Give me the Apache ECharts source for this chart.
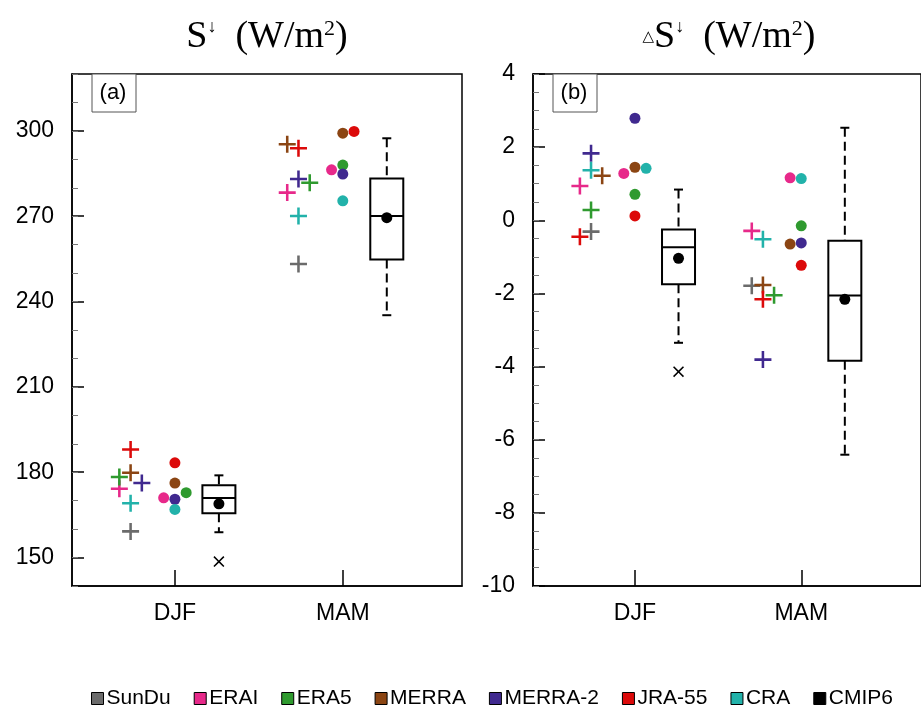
<!DOCTYPE html>
<html>
<head>
<meta charset="utf-8">
<script src="https://cdn.jsdelivr.net/npm/echarts@6/dist/echarts.min.js"></script>
<style>html,body{margin:0;padding:0;background:#fff}#chart{width:921px;height:708px}</style>
</head>
<body>
<div id="chart"></div>
<script>
// ---------------- DATA ----------------
const seasons = ['DJF', 'MAM'];
const obsNames = ['SunDu', 'ERAI', 'ERA5', 'MERRA', 'MERRA-2', 'JRA-55', 'CRA'];   // crosses
const reaNames = ['ERAI', 'ERA5', 'MERRA', 'MERRA-2', 'JRA-55', 'CRA'];            // dots

// Panel (a): S (W/m2)
const aCrossDJF = [159.2, 174.2, 178.3, 179.8, 176.2, 188.0, 169.1];
const aCrossMAM = [253.2, 278.3, 281.8, 295.3, 283.1, 293.9, 270.1];
const aDotDJF = [171.0, 172.8, 176.2, 170.5, 183.3, 166.9];
const aDotMAM = [286.3, 288.0, 299.2, 284.8, 299.8, 275.4];
const aBoxDJF = [158.9, 165.6, 170.9, 175.4, 178.9];   // low, q1, median, q3, high
const aBoxMAM = [235.2, 254.8, 270.1, 283.3, 297.4];
const aMean = [168.9, 269.5];
const aOutDJF = [148.6];
const aOutMAM = [];
const aTicks = [150, 180, 210, 240, 270, 300];

// Panel (b): delta S (W/m2)
const bCrossDJF = [-0.31, 0.94, 0.28, 1.22, 1.83, -0.45, 1.37];
const bCrossMAM = [-1.79, -0.29, -2.05, -1.77, -3.81, -2.16, -0.52];
const bDotDJF = [1.28, 0.71, 1.45, 2.79, 0.12, 1.42];
const bDotMAM = [1.16, -0.15, -0.65, -0.62, -1.23, 1.14];
const bBoxDJF = [-3.35, -1.75, -0.74, -0.25, 0.84];
const bBoxMAM = [-6.41, -3.84, -2.06, -0.56, 2.53];
const bMean = [-1.04, -2.16];
const bOutDJF = [-4.14];
const bOutMAM = [];
const bTicks = [-10, -8, -6, -4, -2, 0, 2, 4];

// ---------------- LAYOUT / STYLE ----------------
const colors = {
  'SunDu': '#6b6b6b', 'ERAI': '#e7298a', 'ERA5': '#2f9a2f', 'MERRA': '#8b4513',
  'MERRA-2': '#40298f', 'JRA-55': '#dc0a0a', 'CRA': '#22b2aa', 'CMIP6': '#000000'
};
// horizontal de-overlap steps (layout only)
const crossJit = {
  a: [[0, -1, -1, 0, 1, 0, 0], [0, -1, 1, -1, 0, 0, 0]],
  b: [[0, -1, 0, 1, 0, -1, 0], [-0.5, -0.5, 1.5, 0.5, 0.5, 0.5, 0.5]]
};
const dotJit = {
  a: [[-1, 1, 0, 0, 0, 0], [-1, 0, 0, 0, 1, 0]],
  b: [[-1, 0, 0, 0, 0, 1], [-1, 0, -1, 0, 0, 0]]
};
const CROSS_OFF = -0.264, BOX_OFF = 0.262, STEP = 0.067;
const PLUS = 'path://M8.5,0H11.5V8.5H20V11.5H11.5V20H8.5V11.5H0V8.5H8.5Z';
const XMARK = 'path://M0,1L1,0L5,4L9,0L10,1L6,5L10,9L9,10L5,6L1,10L0,9L4,5Z';
const SANS = '"Liberation Sans", Arial, Helvetica, sans-serif';
const SERIF = '"Liberation Serif", "Times New Roman", serif';

const panels = {
  a: { cross: [aCrossDJF, aCrossMAM], dot: [aDotDJF, aDotMAM], box: [aBoxDJF, aBoxMAM],
       mean: aMean, out: [aOutDJF, aOutMAM], ticks: aTicks, min: 140, max: 320, minor: 10 },
  b: { cross: [bCrossDJF, bCrossMAM], dot: [bDotDJF, bDotMAM], box: [bBoxDJF, bBoxMAM],
       mean: bMean, out: [bOutDJF, bOutMAM], ticks: bTicks, min: -10, max: 4, minor: 0.5 }
};
const keys = ['a', 'b'];

const grids = keys.map((k, i) => ({
  left: i === 0 ? 72 : 533, top: 74, width: i === 0 ? 390 : 394, height: 512,
  show: true, borderColor: '#000', borderWidth: 1.5, backgroundColor: 'transparent'
}));
const xMax = [2.71, 2.72];

const xAxes = keys.map((k, i) => ({
  type: 'value', gridIndex: i, min: 0.387, max: xMax[i],
  axisLine: { show: true, onZero: false, lineStyle: { color: '#000', width: 1.5 } },
  axisTick: { show: true, inside: true, length: 16, customValues: [1, 2], lineStyle: { color: '#000', width: 1.5 } },
  axisLabel: { show: true, customValues: [1, 2], formatter: v => seasons[Math.round(v) - 1],
               fontFamily: SANS, fontSize: 23, color: '#000', margin: 16 },
  splitLine: { show: false }
}));

const yMain = keys.map((k, i) => ({
  type: 'value', gridIndex: i, position: 'left', min: panels[k].min, max: panels[k].max,
  axisLine: { show: true, onZero: false, lineStyle: { color: '#000', width: 1.5 } },
  axisTick: { show: true, inside: true, length: 12, customValues: panels[k].ticks, lineStyle: { color: '#000', width: 1.5 } },
  axisLabel: { show: true, customValues: panels[k].ticks, fontFamily: SANS, fontSize: 23, color: '#000', margin: 18 },
  splitLine: { show: false }
}));
const yMinor = keys.map((k, i) => ({
  type: 'value', gridIndex: i, position: 'left', min: panels[k].min, max: panels[k].max,
  interval: panels[k].minor,
  axisLine: { show: false, onZero: false },
  axisTick: { show: true, inside: true, length: 6, lineStyle: { color: '#777', width: 1 } },
  axisLabel: { show: false },
  splitLine: { show: false }
}));

function renderBox(params, api) {
  const x = api.value(0);
  const lo = api.coord([x, api.value(1)]);
  const q1 = api.coord([x, api.value(2)]);
  const md = api.coord([x, api.value(3)]);
  const q3 = api.coord([x, api.value(4)]);
  const hi = api.coord([x, api.value(5)]);
  const cx = lo[0], hw = 16.5, cw = 4.5;
  const solid = { stroke: '#000', lineWidth: 2, fill: null };
  const dash = { stroke: '#000', lineWidth: 2, lineDash: [9, 5], fill: null };
  return {
    type: 'group',
    children: [
      { type: 'line', shape: { x1: cx, y1: hi[1], x2: cx, y2: q3[1] }, style: dash },
      { type: 'line', shape: { x1: cx, y1: q1[1], x2: cx, y2: lo[1] }, style: dash },
      { type: 'line', shape: { x1: cx - cw, y1: hi[1], x2: cx + cw, y2: hi[1] }, style: solid },
      { type: 'line', shape: { x1: cx - cw, y1: lo[1], x2: cx + cw, y2: lo[1] }, style: solid },
      { type: 'rect', shape: { x: cx - hw, y: q3[1], width: 2 * hw, height: q1[1] - q3[1] },
        style: { fill: '#fff', stroke: '#000', lineWidth: 2 } },
      { type: 'line', shape: { x1: cx - hw, y1: md[1], x2: cx + hw, y2: md[1] }, style: solid }
    ]
  };
}

const series = [];
keys.forEach((k, pi) => {
  const P = panels[k];
  series.push({
    name: 'CMIP6', type: 'custom', xAxisIndex: pi, yAxisIndex: pi,
    renderItem: renderBox, encode: { x: 0, y: [1, 2, 3, 4, 5] },
    itemStyle: { color: '#000' },
    data: P.box.map((b, si) => [si + 1 + BOX_OFF].concat(b)), z: 2
  });
  obsNames.forEach((name, di) => {
    const data = [];
    P.cross.forEach((arr, si) => {
      data.push({ value: [si + 1 + CROSS_OFF + crossJit[k][si][di] * STEP, arr[di]], symbol: PLUS, symbolSize: 17 });
    });
    const ri = reaNames.indexOf(name);
    if (ri >= 0) {
      P.dot.forEach((arr, si) => {
        data.push({ value: [si + 1 + dotJit[k][si][ri] * STEP, arr[ri]], symbol: 'circle', symbolSize: 11 });
      });
    }
    series.push({
      name: name, type: 'scatter', xAxisIndex: pi, yAxisIndex: pi,
      itemStyle: { color: colors[name], opacity: 1 }, data: data, z: 3
    });
  });
  series.push({
    name: 'CMIP6', type: 'scatter', xAxisIndex: pi, yAxisIndex: pi,
    symbol: 'circle', symbolSize: 11, itemStyle: { color: '#000', opacity: 1 },
    data: P.mean.map((m, si) => [si + 1 + BOX_OFF, m]), z: 4
  });
  const outs = [];
  P.out.forEach((arr, si) => arr.forEach(v => outs.push([si + 1 + BOX_OFF, v])));
  series.push({
    name: 'CMIP6', type: 'scatter', xAxisIndex: pi, yAxisIndex: pi,
    symbol: XMARK, symbolSize: 11, itemStyle: { color: '#000', opacity: 1 },
    data: outs, z: 4
  });
});

const legendNames = obsNames.concat(['CMIP6']);

const titleRich = {
  t: { fontFamily: SERIF, fontSize: 38, fill: '#000', color: '#000' },
  s: { fontFamily: SERIF, fontSize: 18, verticalAlign: 'top', fill: '#000', color: '#000' },
  s2: { fontFamily: SERIF, fontSize: 22, verticalAlign: 'top', fill: '#000', color: '#000' },
  tri: { fontFamily: '"DejaVu Sans", sans-serif', fontSize: 15, fill: '#000', color: '#000' }
};

const option = {
  animation: false,
  backgroundColor: '#fff',
  grid: grids,
  xAxis: xAxes,
  yAxis: yMain.concat(yMinor),
  legend: {
    data: legendNames.map(n => ({ name: n, icon: 'rect',
      itemStyle: { color: colors[n], borderColor: '#000', borderWidth: 1 } })),
    left: 86, top: 683, itemWidth: 12, itemHeight: 12, itemGap: 23,
    selectedMode: false,
    textStyle: { fontFamily: SANS, fontSize: 21, color: '#000', padding: [0, 0, 0, -2] }
  },
  graphic: [
    { type: 'text', x: 267, y: 37,
      style: { text: '{t|S}{s|↓}{t|  (W/m}{s2|2}{t|)}', rich: titleRich, align: 'center', verticalAlign: 'middle' } },
    { type: 'text', x: 729, y: 37,
      style: { text: '{tri|△}{t|S}{s|↓}{t|  (W/m}{s2|2}{t|)}', rich: titleRich, align: 'center', verticalAlign: 'middle' } },
    { type: 'rect', shape: { x: 92, y: 74, width: 44, height: 38 }, style: { fill: '#fff', stroke: '#555', lineWidth: 1 }, z: 10 },
    { type: 'text', x: 113, y: 93, z: 11,
      style: { text: '(a)', font: '22px "Liberation Sans", Arial, sans-serif', fill: '#000', align: 'center', verticalAlign: 'middle' } },
    { type: 'rect', shape: { x: 553, y: 74, width: 44, height: 38 }, style: { fill: '#fff', stroke: '#555', lineWidth: 1 }, z: 10 },
    { type: 'text', x: 574, y: 93, z: 11,
      style: { text: '(b)', font: '22px "Liberation Sans", Arial, sans-serif', fill: '#000', align: 'center', verticalAlign: 'middle' } }
  ],
  series: series
};

const chart = echarts.init(document.getElementById('chart'), null, { renderer: 'canvas' });
chart.setOption(option);
</script>
</body>
</html>
